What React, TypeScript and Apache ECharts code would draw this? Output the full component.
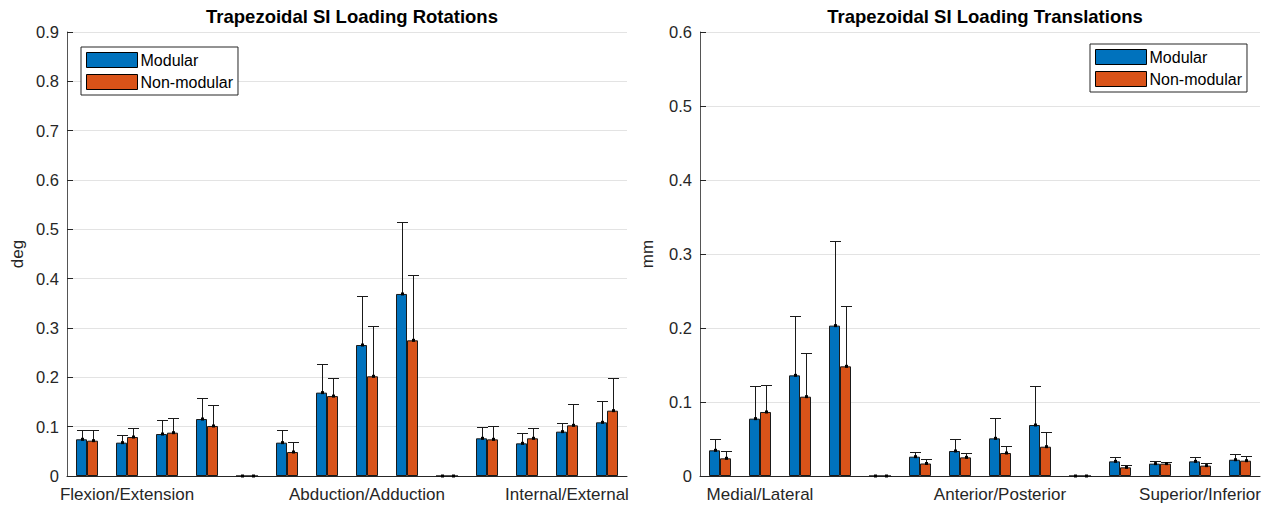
import React, { useEffect, useRef } from "react";
import * as echarts from "echarts";

// ---- data ----
const rotationCategories = ["", "Flexion/Extension", "", "", "", "", "", "Abduction/Adduction", "", "", "", "", "Internal/External", ""];
const translationCategories = ["", "Medial/Lateral", "", "", "", "", "", "Anterior/Posterior", "", "", "", "", "Superior/Inferior", ""];

const rotModular = [0.0744, 0.0676, 0.0851, 0.1155, 0, 0.0676, 0.169, 0.2655, 0.369, 0, 0.0764, 0.0662, 0.0899, 0.1088];
const rotModularErr = [0.0195, 0.0148, 0.0291, 0.0419, 0, 0.0256, 0.059, 0.0987, 0.1452, 0, 0.0236, 0.0216, 0.0175, 0.0439];
const rotNonModular = [0.0716, 0.079, 0.0878, 0.1014, 0, 0.0486, 0.162, 0.2021, 0.275, 0, 0.0743, 0.0764, 0.1027, 0.1324];
const rotNonModularErr = [0.0223, 0.0176, 0.0298, 0.0419, 0, 0.021, 0.0373, 0.1026, 0.133, 0, 0.027, 0.0202, 0.0439, 0.0669];

const transModular = [0.0347, 0.0775, 0.136, 0.2032, 0, 0.0261, 0.0338, 0.0509, 0.0689, 0, 0.0198, 0.0167, 0.0198, 0.022];
const transModularErr = [0.0153, 0.0445, 0.0802, 0.1148, 0, 0.0059, 0.0167, 0.027, 0.0531, 0, 0.0063, 0.0031, 0.0063, 0.0082];
const transNonModular = [0.0239, 0.0865, 0.1072, 0.1482, 0, 0.0169, 0.0252, 0.0311, 0.0396, 0, 0.0117, 0.0167, 0.014, 0.0207];
const transNonModularErr = [0.0094, 0.0369, 0.0595, 0.0811, 0, 0.0056, 0.0063, 0.0094, 0.0194, 0, 0.0027, 0.0018, 0.0036, 0.0059];

const seriesNames = ["Modular", "Non-modular"];
const titles = ["Trapezoidal SI Loading Rotations", "Trapezoidal SI Loading Translations"];
const yNames = ["deg", "mm"];
const yMax = [0.9, 0.6];

const FONT = "'Liberation Sans', Arial, Helvetica, sans-serif";
const BLUE = "#0072BD";
const ORANGE = "#D95319";
const BAR_W = 11;

function errSeries(name: string, vals: number[], errs: number[], axis: number, offset: number) {
  return {
    type: "custom",
    name,
    xAxisIndex: axis,
    yAxisIndex: axis,
    z: 5,
    silent: true,
    data: vals.map((v, i) => [i, v, errs[i]]),
    encode: { x: 0, y: 1 },
    renderItem: (params: any, api: any) => {
      const i = api.value(0);
      const v = api.value(1);
      const e = api.value(2);
      const base = api.coord([i, v]);
      const top = api.coord([i, v + e]);
      const x = Math.round(base[0] + offset) + 0.5;
      const yb = base[1];
      const yt = Math.round(top[1]) + 0.5;
      const st = { stroke: "#1a1a1a", lineWidth: 1 };
      return {
        type: "group",
        children: [
          { type: "line", shape: { x1: x, y1: yb, x2: x, y2: yt }, style: st },
          { type: "line", shape: { x1: x - 5.5, y1: yt, x2: x + 5.5, y2: yt }, style: st },
          { type: "rect", shape: { x: x - 1.5, y: yb - 1.5, width: 3, height: 3 }, style: { fill: "#000" } },
        ],
      };
    },
  };
}

function barSeries(name: string, vals: number[], axis: number, color: string) {
  return {
    type: "bar",
    name,
    xAxisIndex: axis,
    yAxisIndex: axis,
    barWidth: BAR_W,
    barGap: "0%",
    data: vals,
    itemStyle: { color, borderColor: "#1a1a1a", borderWidth: 1 },
    z: 2,
  };
}

export default function App() {
  const ref = useRef<HTMLDivElement>(null);
  useEffect(() => {
    if (!ref.current) return;
    const chart = echarts.init(ref.current, null, { renderer: "svg" });
    const grids = [
      { left: 67, top: 32, width: 560, height: 444 },
      { left: 700, top: 32, width: 560, height: 444 },
    ];
    const cats = [rotationCategories, translationCategories];
    const option: any = {
      animation: false,
      backgroundColor: "#fff",
      textStyle: { fontFamily: FONT },
      title: titles.map((t, k) => ({
        text: t,
        left: grids[k].left + grids[k].width / 2,
        top: 2,
        textAlign: "center",
        textStyle: { fontFamily: FONT, fontSize: 18.5, fontWeight: "bold", color: "#000" },
      })),
      legend: [
        { left: 81, top: 47 },
        { left: 1090, top: 44 },
      ].map((pos) => ({
        ...pos,
        orient: "vertical",
        data: seriesNames,
        itemWidth: 51,
        itemHeight: 15,
        itemGap: 6,
        padding: [5, 5, 5, 5],
        borderColor: "#262626",
        borderWidth: 1,
        borderRadius: 0,
        backgroundColor: "#fff",
        icon: "rect",
        itemStyle: { borderColor: "#000", borderWidth: 1 },
        textStyle: { fontFamily: FONT, fontSize: 16, color: "#000", padding: [0, 0, 0, -2] },
        selectedMode: false,
      })),
      grid: grids,
      xAxis: cats.map((c, k) => ({
        type: "category",
        gridIndex: k,
        data: c,
        axisLine: { lineStyle: { color: "#262626", width: 1 } },
        axisTick: { show: false },
        axisLabel: { interval: 0, fontFamily: FONT, fontSize: 17, color: "#262626", margin: 10 },
      })),
      yAxis: yMax.map((m, k) => ({
        type: "value",
        gridIndex: k,
        min: 0,
        max: m,
        interval: 0.1,
        name: yNames[k],
        nameLocation: "middle",
        nameGap: k === 0 ? 41 : 44,
        nameTextStyle: { fontFamily: FONT, fontSize: 17, color: "#262626" },
        axisLine: { show: true, lineStyle: { color: "#555", width: 1 } },
        axisTick: { show: true, inside: true, length: 6, lineStyle: { color: "#262626" } },
        axisLabel: {
          fontFamily: FONT,
          fontSize: 16.5,
          color: "#262626",
          margin: 8,
          formatter: (v: number) => (Math.round(v * 10) / 10).toString(),
        },
        splitLine: { show: true, lineStyle: { color: "#e3e3e3", width: 1 } },
      })),
      series: [
        barSeries(seriesNames[0], rotModular, 0, BLUE),
        barSeries(seriesNames[1], rotNonModular, 0, ORANGE),
        barSeries(seriesNames[0], transModular, 1, BLUE),
        barSeries(seriesNames[1], transNonModular, 1, ORANGE),
        errSeries("errRotM", rotModular, rotModularErr, 0, -BAR_W / 2),
        errSeries("errRotN", rotNonModular, rotNonModularErr, 0, BAR_W / 2),
        errSeries("errTransM", transModular, transModularErr, 1, -BAR_W / 2),
        errSeries("errTransN", transNonModular, transNonModularErr, 1, BAR_W / 2),
      ],
    };
    chart.setOption(option);
    return () => chart.dispose();
  }, []);
  return (
    <div
      ref={ref}
      style={{ position: "fixed", left: 0, top: 0, width: 1267, height: 507, background: "#fff" }}
    />
  );
}
